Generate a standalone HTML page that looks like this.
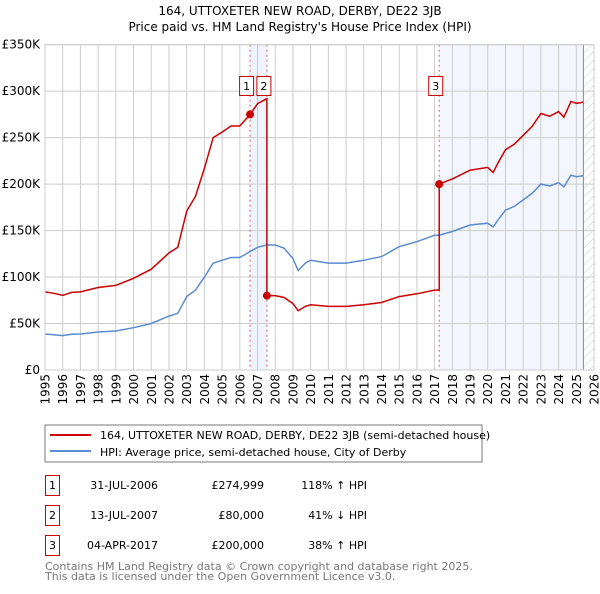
<!DOCTYPE html>
<html><head><meta charset="utf-8">
<style>
body{margin:0;background:#fff;font-family:"DejaVu Sans","Liberation Sans",sans-serif;}
svg text{font-family:"DejaVu Sans","Liberation Sans",sans-serif;}
</style></head>
<body>
<svg id="c" width="600" height="590" xmlns="http://www.w3.org/2000/svg">
<defs>
<pattern id="hatch" width="6" height="6" patternUnits="userSpaceOnUse" patternTransform="rotate(45)">
<line x1="0" y1="0" x2="0" y2="6" stroke="#ccc" stroke-width="1"/>
</pattern>
</defs>
<text x="300" y="15" text-anchor="middle" font-size="12">164, UTTOXETER NEW ROAD, DERBY, DE22 3JB</text>
<text x="300" y="31" text-anchor="middle" font-size="12">Price paid vs. HM Land Registry's House Price Index (HPI)</text>
<g id="plot"></g>
<rect x="45" y="425" width="437" height="37" fill="none" stroke="#777"/>
<line x1="50" y1="435" x2="91" y2="435" stroke="#cc0000" stroke-width="2"/>
<text x="100" y="439" font-size="11">164, UTTOXETER NEW ROAD, DERBY, DE22 3JB (semi-detached house)</text>
<line x1="50" y1="451" x2="91" y2="451" stroke="#5b8bd0" stroke-width="2"/>
<text x="100" y="456" font-size="11">HPI: Average price, semi-detached house, City of Derby</text>
<g font-size="11">
<rect x="45.5" y="475.5" width="14" height="20" fill="none" stroke="#cc0000"/><text x="52.5" y="489" text-anchor="middle">1</text>
<text x="158" y="489" text-anchor="end">31-JUL-2006</text><text x="264" y="489" text-anchor="end">£274,999</text><text x="367" y="489" text-anchor="end">118% ↑ HPI</text>
<rect x="45.5" y="505.5" width="14" height="20" fill="none" stroke="#cc0000"/><text x="52.5" y="519" text-anchor="middle">2</text>
<text x="158" y="519" text-anchor="end">13-JUL-2007</text><text x="264" y="519" text-anchor="end">£80,000</text><text x="367" y="519" text-anchor="end">41% ↓ HPI</text>
<rect x="45.5" y="535.5" width="14" height="20" fill="none" stroke="#cc0000"/><text x="52.5" y="549" text-anchor="middle">3</text>
<text x="158" y="549" text-anchor="end">04-APR-2017</text><text x="264" y="549" text-anchor="end">£200,000</text><text x="367" y="549" text-anchor="end">38% ↑ HPI</text>
</g>
<text x="45" y="570" font-size="11" fill="#777">Contains HM Land Registry data © Crown copyright and database right 2025.</text>
<text x="45" y="580" font-size="11" fill="#777">This data is licensed under the Open Government Licence v3.0.</text>
</svg>
<script>
const yTicks=[0,50,100,150,200,250,300,350];
const yTickLabels=["£0","£50K","£100K","£150K","£200K","£250K","£300K","£350K"];
const xTicks=[1995,1996,1997,1998,1999,2000,2001,2002,2003,2004,2005,2006,2007,2008,2009,2010,2011,2012,2013,2014,2015,2016,2017,2018,2019,2020,2021,2022,2023,2024,2025,2026];
const hpiYears=[1995,1995.5,1996,1996.5,1997,1998,1999,2000,2001,2002,2002.5,2003,2003.5,2004,2004.5,2005,2005.5,2006,2006.5,2007,2007.5,2008,2008.5,2009,2009.3,2009.7,2010,2011,2012,2013,2014,2015,2016,2017,2017.25,2018,2019,2020,2020.3,2020.6,2021,2021.5,2022,2022.5,2023,2023.5,2024,2024.3,2024.7,2025,2025.4];
const hpiValues=[38.7,38,37,38.5,38.7,40.9,42,45.5,50,58,61,79,86,100,115,118,121,121,126.5,132,134.5,134.5,131,120,107,115,118,115,115,118,122,132.7,138,145,145,149,156,158,154,162,172,176,183,190,200,198,201.5,197,209.7,208,209];
const priceYears=[1995,1995.5,1996,1996.5,1997,1998,1999,2000,2001,2002,2002.5,2003,2003.5,2004,2004.5,2005,2005.5,2006,2006.58,2007,2007.53,2007.53,2008,2008.5,2009,2009.3,2009.7,2010,2011,2012,2013,2014,2015,2016,2017,2017.26,2017.26,2018,2019,2020,2020.3,2020.6,2021,2021.5,2022,2022.5,2023,2023.5,2024,2024.3,2024.7,2025,2025.4];
const priceValues=[84,82.5,80.3,83.5,84,88.8,91,98.7,108.5,126,132,171,187,217,250,256,262.5,262.5,275,286.5,292,80,80,78,71.4,63.7,68.4,70.2,68.4,68.4,70.2,72.6,79,82,86,86,200,205.6,215,218,212.5,223.6,237,243,252.5,262,276,273,278,272,289,287,288];
const saleYears=[2006.58,2007.53,2017.26];
const saleValues=[275,80,200];
const saleLabels=["1","2","3"];

const X0=45,X1=594,Y0=370,Y1=44.7,XMIN=1995,XMAX=2026,YMAX=350;
const sx=v=>X0+(v-XMIN)/(XMAX-XMIN)*(X1-X0);
const sy=v=>Y0-v/YMAX*(Y0-Y1);
const NS="http://www.w3.org/2000/svg";
const g=document.getElementById('plot');
function mk(t,a){const e=document.createElementNS(NS,t);for(const k in a)e.setAttribute(k,a[k]);g.appendChild(e);return e;}

let r=mk('rect',{x:sx(saleYears[0]),y:Y1,width:sx(saleYears[1])-sx(saleYears[0]),height:Y0-Y1,fill:'#eef3fc'});


r=mk('rect',{x:sx(saleYears[2]),y:Y1,width:sx(2025.4)-sx(saleYears[2]),height:Y0-Y1,fill:'#f3f6fd'});


r=mk('rect',{x:sx(2025.4),y:Y1,width:X1-sx(2025.4),height:Y0-Y1,fill:'url(#hatch)'});



xTicks.forEach(t=>{
  const l=mk('line',{x1:sx(t),x2:sx(t),y1:Y1,y2:Y0,stroke:'#ccc'});
  
  
  const tx=mk('text',{x:0,y:0,'text-anchor':'end','font-size':12,transform:'translate('+(sx(t)+4.5)+',374) rotate(-90)'});
  tx.textContent=t;
  
  
});
yTicks.forEach((t,i)=>{
  const l=mk('line',{x1:X0,x2:X1,y1:sy(t),y2:sy(t),stroke:'#ccc'});
  
  
  const tx=mk('text',{x:40,y:sy(t)+4,'text-anchor':'end','font-size':12});
  tx.textContent=yTickLabels[i];
  
  
});
let v=mk('line',{x1:sx(2025.4),x2:sx(2025.4),y1:Y1,y2:Y0,stroke:'#888'});



saleYears.forEach((y,i)=>{
  const l=mk('line',{x1:sx(y),x2:sx(y),y1:Y1,y2:Y0,stroke:'#e06060','stroke-dasharray':'2,3'});
  
  
});

const pts=(xs,ys)=>xs.map((x,i)=>sx(x).toFixed(1)+','+sy(ys[i]).toFixed(1)).join(' ');
let p=mk('polyline',{points:pts(hpiYears,hpiValues),fill:'none',stroke:'#5b8bd0','stroke-width':1.5});


p=mk('polyline',{points:pts(priceYears,priceValues),fill:'none',stroke:'#cc0000','stroke-width':1.5});



saleYears.forEach((y,i)=>{
  const c=mk('circle',{cx:sx(y),cy:sy(saleValues[i]),r:4,fill:'#cc0000'});
  
  
  const bx=sx(y)-(i==1?3:3.5);
  const b=mk('rect',{x:bx-7,y:76.5,width:14,height:19,fill:'#fff',stroke:'#cc0000'});
  
  
  const t=mk('text',{x:bx,y:90,'text-anchor':'middle','font-size':11});
  t.textContent=saleLabels[i];
  
  
});
let ax=mk('rect',{x:X0,y:Y1,width:X1-X0,height:Y0-Y1,fill:'none',stroke:'#ccc'});


</script>
</body></html>
